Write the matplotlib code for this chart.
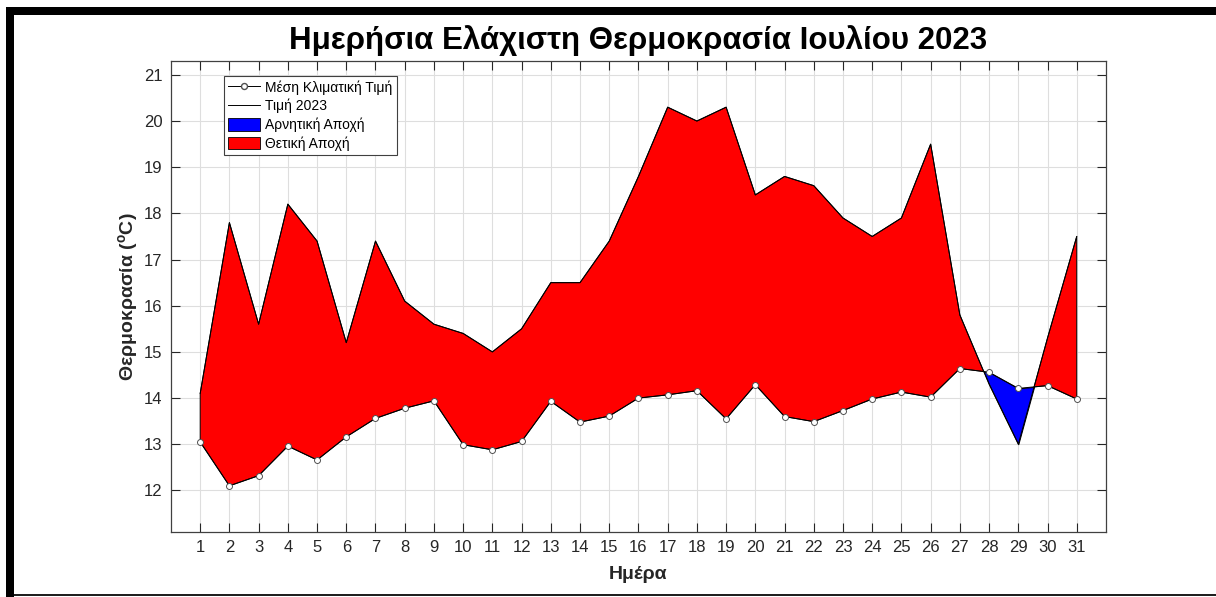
import matplotlib

matplotlib.use("Agg")
import matplotlib.pyplot as plt
import numpy as np
from matplotlib.lines import Line2D
from matplotlib.patches import Patch, Rectangle

plt.rcParams["font.family"] = ["Liberation Sans", "DejaVu Sans"]
plt.rcParams["mathtext.fontset"] = "custom"
plt.rcParams["mathtext.rm"] = "Liberation Sans:bold"
plt.rcParams["mathtext.bf"] = "Liberation Sans:bold"

# daily minimum temperature, July 2023 vs climatological mean
days = np.arange(1, 32)
mean_clim = [13.05, 12.10, 12.32, 12.96, 12.66, 13.16, 13.56, 13.78, 13.94, 12.99,
             12.88, 13.06, 13.93, 13.48, 13.61, 14.00, 14.07, 14.16, 13.55, 14.29,
             13.60, 13.49, 13.73, 13.98, 14.13, 14.02, 14.64, 14.56, 14.21, 14.27,
             13.98]
tmin_2023 = [14.1, 17.8, 15.6, 18.2, 17.4, 15.2, 17.4, 16.1, 15.6, 15.4,
             15.0, 15.5, 16.5, 16.5, 17.4, 18.8, 20.3, 20.0, 20.3, 18.4,
             18.8, 18.6, 17.9, 17.5, 17.9, 19.5, 15.8, 14.3, 13.0, 15.3,
             17.5]

title = "Ημερήσια Ελάχιστη Θερμοκρασία Ιουλίου 2023"
legend_labels = ["Μέση Κλιματική Τιμή", "Τιμή 2023", "Αρνητική Αποχή", "Θετική Αποχή"]

TXT = "#262626"

mean_arr = np.array(mean_clim)
val_arr = np.array(tmin_2023)

fig = plt.figure(figsize=(12.16, 5.97), dpi=100)
ax = fig.add_axes([0.1406, 0.1089, 0.7689, 0.7889])

ax.fill_between(days, mean_arr, val_arr, where=val_arr >= mean_arr, interpolate=True,
                facecolor="#ff0000", edgecolor="black", linewidth=0.7, zorder=2)
ax.fill_between(days, mean_arr, val_arr, where=val_arr <= mean_arr, interpolate=True,
                facecolor="#0000ff", edgecolor="black", linewidth=0.7, zorder=2)
ax.plot(days, val_arr, color="black", linewidth=0.7, zorder=3)
ax.plot(days, mean_arr, color="black", linewidth=0.7, marker="o", markersize=4.3,
        markerfacecolor="white", markeredgecolor="#505050", markeredgewidth=0.7, zorder=4)

ax.set_xlim(0, 32)
ax.set_ylim(11.1, 21.3)
ax.set_xticks(days)
ax.set_yticks(np.arange(12, 22))
ax.grid(True, color="#dedede", linewidth=0.8)
ax.set_axisbelow(True)

ax.tick_params(direction="in", length=6.5, width=0.8, colors=TXT, labelsize=12,
               top=True, right=True, pad=6)
for s in ax.spines.values():
    s.set_color("#404040")
    s.set_linewidth(0.9)

ax.set_title(title, fontsize=22.5, fontweight="bold", color="black", pad=9)
ax.set_xlabel("Ημέρα", fontsize=14, fontweight="bold", color=TXT, labelpad=8)
ax.set_ylabel(r"Θερμοκρασία ($^{\mathrm{o}}$C)", fontsize=14, fontweight="bold",
              color=TXT, labelpad=2)

handles = [
    Line2D([], [], color="black", linewidth=0.7, marker="o", markersize=4.3,
           markerfacecolor="white", markeredgecolor="#505050"),
    Line2D([], [], color="black", linewidth=0.7),
    Patch(facecolor="#0000ff", edgecolor="black", linewidth=0.6),
    Patch(facecolor="#ff0000", edgecolor="black", linewidth=0.6),
]
leg = ax.legend(handles, legend_labels, loc="upper left", bbox_to_anchor=(0.057, 0.968),
                fontsize=10, frameon=True, fancybox=False, framealpha=1,
                edgecolor="#404040", handlelength=2.3, handleheight=1.0,
                labelspacing=0.3, borderpad=0.3, handletextpad=0.35, borderaxespad=0)
leg.get_frame().set_linewidth(0.8)

# window frame around the figure
W, H = 1216, 597
fig.patches.append(Rectangle((6 / W, 0), 8 / W, 1 - 7 / H, transform=fig.transFigure,
                             facecolor="black", edgecolor="none"))
fig.patches.append(Rectangle((6 / W, 1 - 15 / H), 1, 8 / H, transform=fig.transFigure,
                             facecolor="black", edgecolor="none"))
fig.patches.append(Rectangle((14 / W, 1 / H), 1, 2 / H, transform=fig.transFigure,
                             facecolor="#202020", edgecolor="none"))

fig.savefig("out.png", dpi=100)
